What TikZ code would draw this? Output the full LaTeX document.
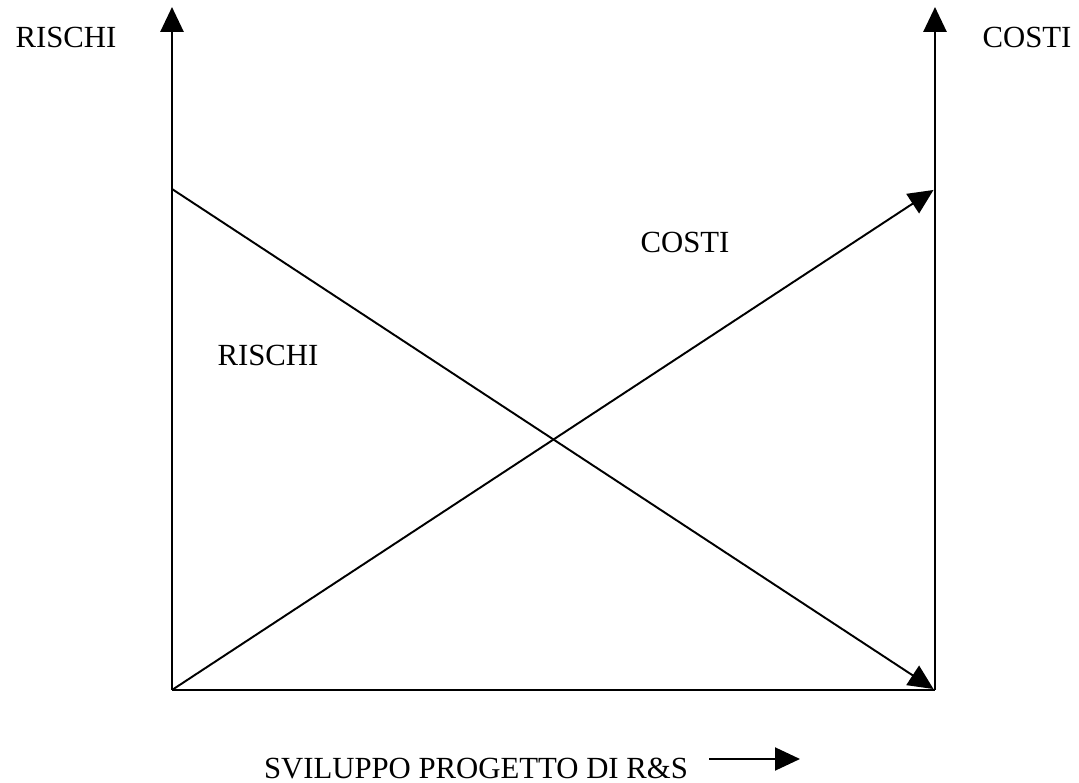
\documentclass[tikz,border=0pt]{standalone}
\usepackage{fontspec}
\setmainfont{Liberation Serif}
\usetikzlibrary{arrows.meta}

\begin{document}
\begin{tikzpicture}[x=0.02cm, y=-0.02cm, font=\fontsize{17.5}{21}\selectfont,
  axis/.style={line width=1.6pt, -{Triangle[length=0.5cm, width=0.46cm]}},
  trend/.style={line width=1.1pt, -{Triangle[length=0.5cm, width=0.46cm]}}]

% Fix the page to the reference size
\useasboundingbox (0,0) rectangle (1079,783);

% Corners of the chart
\coordinate (origin) at (172,690);
\coordinate (left_top) at (172,7);
\coordinate (right_bottom) at (935,690);
\coordinate (right_top) at (935,7);
\coordinate (left_high) at (172,189);
\coordinate (right_high) at (935,189);

% Axis titles
\node (risk_title) [anchor=base] at (66,48) {RISCHI};
\node (cost_title) [anchor=base] at (1027,48) {COSTI};

% Curve labels
\node (cost_label) [anchor=base] at (685,253) {COSTI};
\node (risk_label) [anchor=base] at (268,366) {RISCHI};

% Horizontal caption
\node (progress) [anchor=base] at (476,778) {SVILUPPO PROGETTO DI R\&S};
\coordinate (progress_start) at (709,759);
\coordinate (progress_end) at (800,759);

% Axes
\draw[axis] (origin) -- (left_top);
\draw[axis] (right_bottom) -- (right_top);
\draw[line width=1.6pt] (origin) -- (right_bottom);

% Risks go down, costs go up
\draw[trend, shorten >= 1pt] (left_high) -- (right_bottom);
\draw[trend, shorten >= 1pt] (origin) -- (right_high);

% Arrow beside the caption
\draw[trend] (progress_start) -- (progress_end);

\end{tikzpicture}
\end{document}
